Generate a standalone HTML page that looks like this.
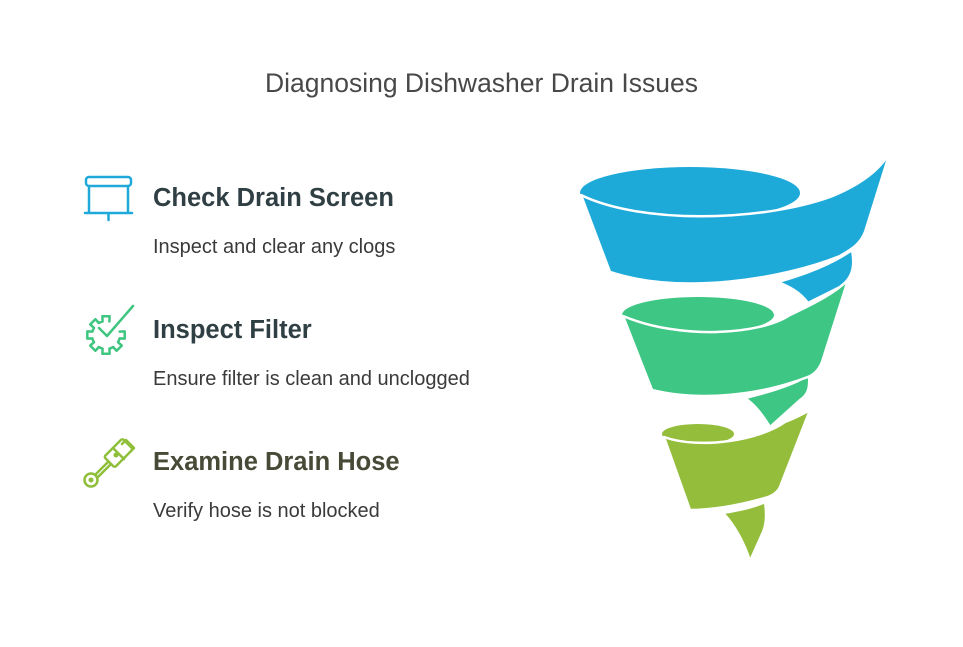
<!DOCTYPE html>
<html><head><meta charset="utf-8"><style>
body{margin:0;background:#fff;width:963px;height:647px;overflow:hidden;position:relative;font-family:"Liberation Sans",sans-serif}
.t{position:absolute;white-space:nowrap}
.title{left:0;width:963px;text-align:center;top:68px;font-size:26.5px;color:#484848}
.h{left:153px;font-size:25.5px;font-weight:bold;color:#2f3f44}
.d{left:153px;font-size:20px;color:#3a3a3a}
svg{position:absolute;left:0;top:0}
</style></head><body>
<div class="t title">Diagnosing Dishwasher Drain Issues</div>
<div class="t h" style="top:184px">Check Drain Screen</div>
<div class="t d" style="top:236px">Inspect and clear any clogs</div>
<div class="t h" style="top:316px">Inspect Filter</div>
<div class="t h" style="top:448px;color:#464a36">Examine Drain Hose</div>
<div class="t d" style="top:368px">Ensure filter is clean and unclogged</div>
<div class="t d" style="top:500px">Verify hose is not blocked</div>
<svg width="963" height="647" viewBox="0 0 963 647">
<g fill="none" stroke-width="2.5" stroke-linecap="round" stroke-linejoin="round">
<g stroke="#1ea9d9">
<rect x="86" y="177" width="45" height="9" rx="3"/>
<path d="M89 186V212M128 186V212M85 213H132M108.5 213V220"/>
</g>
<g stroke="#3ec57f">
<path d="M119.6,331.6 L124.7,331.4 L124.7,338.6 L119.6,338.4 A14,14 0 0 1 118.0,342.2 L121.8,345.6 L116.6,350.8 L113.2,347.0 A14,14 0 0 1 109.4,348.6 L109.6,353.7 L102.4,353.7 L102.6,348.6 A14,14 0 0 1 98.8,347.0 L95.4,350.8 L90.2,345.6 L94.0,342.2 A14,14 0 0 1 92.4,338.4 L87.3,338.6 L87.3,331.4 L92.4,331.6 A14,14 0 0 1 94.0,327.8 L90.2,324.4 L95.4,319.2 L98.8,323.0 A14,14 0 0 1 102.6,321.4 L102.4,316.3 L109.6,316.3 L109.4,321.4"/>
<path d="M99 328l8 8 26-30"/>
</g>
<g stroke="#8fbf3a">
<circle cx="91" cy="480" r="6.5"/>
<circle cx="91" cy="480" r="1.3" fill="#8fbf3a"/>
<path d="M95 475l13-13M97 478l13-13"/>
<rect x="111" y="440" width="15" height="26" rx="2" transform="rotate(45 118.5 453)"/>
<path d="M113 448l11 11M122 444l4-4 8 8-4 4"/>
<circle cx="116" cy="455" r="1.3" fill="#8fbf3a"/>
</g>
</g>
<g stroke="#fff" stroke-width="2.5" stroke-linejoin="round">
<ellipse cx="690" cy="193" rx="110" ry="26" fill="#1eaad9" stroke="none"/>
<path d="M852,250 C856,270 850,280 840,287 L808,303 C800,292 790,287 778,282 C810,273 835,262 852,250 Z" fill="#1eaad9"/>
<path d="M581,195 C640,224 760,222 830,197 C860,185 880,170 890,152 L865,232 C860,245 850,250 840,256 C780,280 680,295 610,272 Z" fill="#1eaad9"/>
<ellipse cx="698" cy="315" rx="76" ry="18" fill="#3ec684" stroke="none"/>
<path d="M809,375 C810,388 808,395 800,400 L770,427 C762,414 755,405 745,398 C770,392 795,384 809,375 Z" fill="#3ec684"/>
<path d="M623,316 C680,340 760,335 790,315 C815,303 835,293 848,280 L822,362 C818,372 812,376 805,378 C760,395 700,402 652,390 Z" fill="#3ec684"/>
<ellipse cx="698" cy="434" rx="36" ry="10" fill="#93bd3a" stroke="none"/>
<path d="M765,502 C767,515 766,525 763,532 L750,561 C745,545 735,525 723,513 C740,510 755,507 765,502 Z" fill="#93bd3a"/>
<path d="M664,437 C700,450 760,440 785,422 C795,418 803,414 810,410 L780,487 C777,493 772,496 765,498 C740,505 715,510 690,510 Z" fill="#93bd3a"/>
</g>
</svg>
</body></html>
